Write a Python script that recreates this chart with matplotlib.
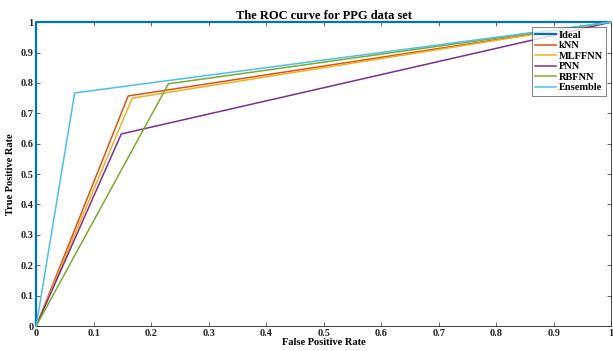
import matplotlib
matplotlib.use('Agg')
import matplotlib.pyplot as plt

matplotlib.rcParams['font.family'] = 'Liberation Serif'
matplotlib.rcParams['font.weight'] = 'bold'
matplotlib.rcParams['font.size'] = 7.5

# ROC points (false positive rate, true positive rate)
labels = ['Ideal', 'kNN', 'MLFFNN', 'PNN', 'RBFNN', 'Ensemble']
fpr = [
    [0, 0, 1],
    [0, 0.160, 1],
    [0, 0.167, 1],
    [0, 0.148, 1],
    [0, 0.230, 1],
    [0, 0.067, 1],
]
tpr = [
    [0, 1, 1],
    [0, 0.757, 1],
    [0, 0.750, 1],
    [0, 0.632, 1],
    [0, 0.797, 1],
    [0, 0.767, 1],
]
colors = ['#0072BD', '#D95319', '#EDB120', '#7E2F8E', '#77AC30', '#4DBEEE']
widths = [1.6, 1.1, 1.1, 1.1, 1.1, 1.1]

fig = plt.figure(figsize=(6.13, 3.51), dpi=100)
ax = fig.add_axes([0.059, 0.071, 0.938, 0.866])

for x, y, c, lab, w in zip(fpr, tpr, colors, labels, widths):
    ax.plot(x, y, color=c, linewidth=w, label=lab, clip_on=False, zorder=3)

ax.set_xlim(0, 1)
ax.set_ylim(0, 1)
ticks = [i / 10 for i in range(11)]
tick_labels = ['0', '0.1', '0.2', '0.3', '0.4', '0.5', '0.6', '0.7', '0.8', '0.9', '1']
ax.set_xticks(ticks)
ax.set_yticks(ticks)
ax.set_xticklabels(tick_labels)
ax.set_yticklabels(tick_labels)
ax.tick_params(direction='in', length=3, width=0.5, top=True, right=True, pad=2, colors='#262626')
for s in ax.spines.values():
    s.set_linewidth(0.6)
    s.set_color('#262626')

ax.set_xlabel('False Positive Rate', fontweight='bold', labelpad=0)
ax.set_ylabel('True Positive Rate', fontweight='bold', labelpad=4)
ax.set_title('The ROC curve for PPG data set', fontweight='bold', pad=2)

leg = ax.legend(loc='upper right', fontsize=7.5, frameon=True, fancybox=False,
                handlelength=2.0, borderpad=0.3, labelspacing=0.12,
                handletextpad=0.3, borderaxespad=0.5)
leg.get_frame().set_edgecolor('#262626')
leg.get_frame().set_linewidth(0.5)
leg.set_zorder(5)

fig.savefig('out.png', dpi=100)
